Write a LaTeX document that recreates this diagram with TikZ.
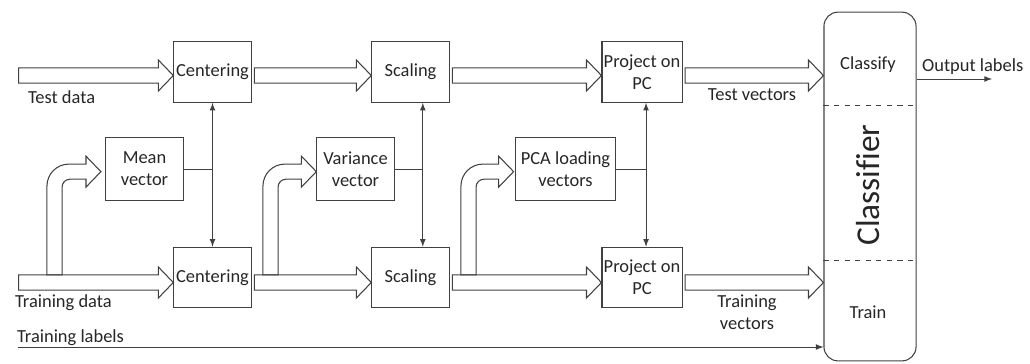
\documentclass[tikz,border=0pt]{standalone}
\usepackage{fontspec}
\setmainfont{Carlito}[Ligatures=CommonOff]
\usetikzlibrary{calc}

\def\shaftw{4.3pt}
\def\headw{8.8pt}
\def\headl{8.5pt}

% hollow block arrow: from x of #1 to x of #2, on the row of #3
\newcommand{\hollowarrow}[3]{%
  \draw[blockarrow] let \p1=#1, \p2=#2, \p3=#3 in
    (\x1+1.5pt,\y3+\shaftw) -- (\x2-\headl,\y3+\shaftw) -- (\x2-\headl,\y3+\headw)
    -- (\x2,\y3) -- (\x2-\headl,\y3-\headw) -- (\x2-\headl,\y3-\shaftw)
    -- (\x1+1.5pt,\y3-\shaftw) -- cycle;}

% bent block arrow: up from the row #3 at x of #1, then right to #2
\newcommand{\bentarrow}[3]{%
  \draw[blockarrow] let \p1=#1, \p2=#2, \p3=#3 in
    (\x1-\shaftw,\y3+\shaftw) [rounded corners=12.5pt] -- (\x1-\shaftw,\y2+\shaftw)
    [sharp corners] -- (\x2-\headl,\y2+\shaftw) -- (\x2-\headl,\y2+\headw)
    -- (\x2,\y2) -- (\x2-\headl,\y2-\headw) -- (\x2-\headl,\y2-\shaftw)
    [rounded corners=4.5pt] -- (\x1+\shaftw,\y2-\shaftw)
    [sharp corners] -- (\x1+\shaftw,\y3+\shaftw) -- cycle;}

\tikzset{
  lbl/.style={font=\fontsize{10.5}{12.5}\selectfont, text=black!85, inner sep=1pt},
  proc/.style={lbl, draw=black!75, line width=0.6pt, align=center,
    minimum width=44pt, minimum height=34.5pt},
  blockarrow/.style={draw=black!75, line width=0.6pt},
  thin/.style={draw=black!75, line width=0.5pt},
}

\begin{document}
\begin{tikzpicture}[x=0.02cm,y=-0.02cm]
    \useasboundingbox (0,0) rectangle (1030,363);

    \coordinate (rowT) at (0,75.5);
    \coordinate (rowB) at (0,282.5);
    \coordinate (testin) at (16,75.5);
    \coordinate (trainin) at (16,282.5);
    \coordinate (labin) at (18,347);
    \coordinate (outend) at (992,79);
    \coordinate (bend1) at (54.5,0);
    \coordinate (bend2) at (270.5,0);
    \coordinate (bend3) at (468.5,0);

    % processing boxes
    \node[proc] (ctop) at (212.5,72) {Centering};
    \node[proc] (stop) at (410.5,72) {Scaling};
    \node[proc] (ptop) at (642,72) {Project on\\PC};
    \node[proc] (cbot) at (212.5,277.5) {Centering};
    \node[proc] (sbot) at (410.5,277.5) {Scaling};
    \node[proc] (pbot) at (642,277.5) {Project on\\PC};
    \node[proc, minimum height=35.5pt] (mean) at (144.5,169) {Mean\\vector};
    \node[proc, minimum height=35.5pt] (var) at (355.5,169) {Variance\\vector};
    \node[proc, minimum height=35.5pt, minimum width=56.5pt] (pca) at (565.5,169) {PCA loading\\vectors};

    % classifier
    \node[draw=black!75, line width=0.6pt, rounded corners=8pt,
          minimum width=52.4pt, minimum height=198.5pt] (clf) at (870,186.5) {};
    \coordinate (d1) at (0,105);
    \coordinate (d2) at (0,260);
    \draw[thin, dashed] (clf.west |- d1) -- (clf.east |- d1);
    \draw[thin, dashed] (clf.west |- d2) -- (clf.east |- d2);
    \node[lbl] (classify) at (868,65) {Classify};
    \node[lbl, font=\fontsize{19}{22}\selectfont, rotate=90] (clfname) at (868,185) {Classifier};
    \node[lbl] (train) at (868,312) {Train};

    % block arrows
    \hollowarrow{(testin)}{(ctop.west)}{(rowT)}
    \hollowarrow{(ctop.east)}{(stop.west)}{(rowT)}
    \hollowarrow{(stop.east)}{(ptop.west)}{(rowT)}
    \hollowarrow{(ptop.east)}{(clf.west)}{(rowT)}
    \hollowarrow{(trainin)}{(cbot.west)}{(rowB)}
    \hollowarrow{(cbot.east)}{(sbot.west)}{(rowB)}
    \hollowarrow{(sbot.east)}{(pbot.west)}{(rowB)}
    \hollowarrow{(pbot.east)}{(clf.west)}{(rowB)}

    \bentarrow{(bend1)}{([shift={(-2.5pt,-1.5pt)}]mean.west)}{(rowB)}
    \bentarrow{(bend2)}{([yshift=-1.5pt]var.west)}{(rowB)}
    \bentarrow{(bend3)}{([shift={(-1pt,-1.5pt)}]pca.west)}{(rowB)}

    % loaded vectors to both branches
    \coordinate (c1) at (ctop.south);
    \coordinate (c2) at ([xshift=7pt]stop.south);
    \coordinate (c3) at ([xshift=2.3pt]ptop.south);
    \draw[thin] (mean.east) -- (mean.east -| c1);
    \draw[thin, latex-latex] (c1) -- (c1 |- cbot.north);
    \draw[thin] (var.east) -- (var.east -| c2);
    \draw[thin, latex-latex] (c2) -- (c2 |- sbot.north);
    \draw[thin] (pca.east) -- (pca.east -| c3);
    \draw[thin, latex-latex] (c3) -- (c3 |- pbot.north);

    \draw[thin, -latex] (labin) -- (clf.west |- labin);
    \draw[thin, -latex] (clf.east |- outend) -- (outend);

    % labels
    \node[lbl, anchor=west] (testlbl) at (26,97) {Test data};
    \node[lbl, anchor=west] (trainlbl) at (13,303) {Training data};
    \node[lbl, anchor=west] (labelslbl) at (15,338) {Training labels};
    \node[lbl] (tvec) at (752,95) {Test vectors};
    \node[lbl, align=center] (trvec) at (747,312) {Training\\vectors};
    \node[lbl, anchor=west] (outlbl) at (920,67) {Output labels};
\end{tikzpicture}
\end{document}
